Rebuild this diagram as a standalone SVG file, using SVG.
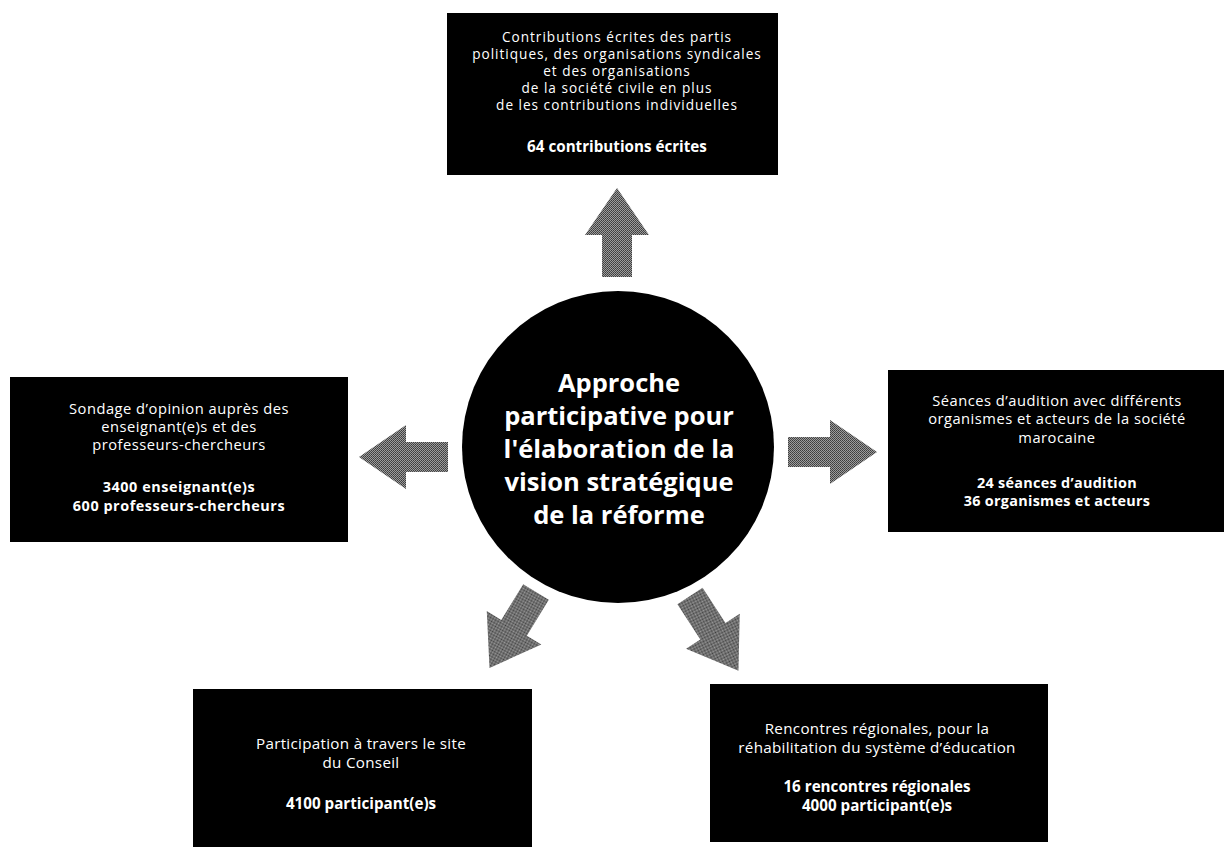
<svg xmlns="http://www.w3.org/2000/svg" width="1226" height="847" viewBox="0 0 1226 847">
  <defs>
    <pattern id="dither" width="2" height="2" patternUnits="userSpaceOnUse">
      <rect width="2" height="2" fill="#9c9c9c"/>
      <rect width="1" height="1" fill="#3c3c3c"/>
      <rect x="1" y="1" width="1" height="1" fill="#4a4a4a"/>
    </pattern>
    <path id="arrow" d="M0,-15 L42,-15 L42,-32 L89,0 L42,32 L42,15 L0,15 Z"/>
  </defs>
  <style>
    .box { fill: #000; }
    .t { font-family: "Open Sans", "Liberation Sans", sans-serif; fill: #fff; text-anchor: middle; }
    .top { font-size: 13.6px; letter-spacing: 1px; }
    .side { font-size: 14.7px; letter-spacing: 0.5px; }
    .low { font-size: 15.2px; letter-spacing: 0.3px; }
    .b { font-weight: bold; font-size: 15.2px; }
    .bl { font-size: 14.4px; letter-spacing: 0.55px; }
    .br { font-size: 14.4px; letter-spacing: 0.3px; }
    .c { font-family: "Open Sans", "Liberation Sans", sans-serif; font-size: 25.5px; font-weight: bold; fill: #fff; text-anchor: middle; }
    .arr { fill: url(#dither); }
  </style>
  <rect width="1226" height="847" fill="#fff"/>

  <g id="connectors">
    <use href="#arrow" class="arr" transform="translate(617,277) rotate(-90)"/>
    <use href="#arrow" class="arr" transform="translate(788,452)"/>
    <use href="#arrow" class="arr" transform="translate(448,457) rotate(180)"/>
    <use href="#arrow" class="arr" transform="translate(536,592) rotate(121.5)"/>
    <use href="#arrow" class="arr" transform="translate(690,596) rotate(57)"/>
  </g>

  <g id="center">
    <circle cx="618" cy="447" r="156" fill="#000"/>
    <text class="c" x="619" y="392">Approche</text>
    <text class="c" x="619" y="425">participative pour</text>
    <text class="c" x="619" y="458">l'élaboration de la</text>
    <text class="c" x="619" y="491">vision stratégique</text>
    <text class="c" x="619" y="524">de la réforme</text>
  </g>

  <g id="top">
    <rect class="box" x="447" y="13" width="331" height="162"/>
    <text class="t top" x="617" y="41.7">Contributions écrites des partis</text>
    <text class="t top" x="617" y="58.7">politiques, des organisations syndicales</text>
    <text class="t top" x="617" y="75.7">et des organisations</text>
    <text class="t top" x="617" y="92.7">de la société civile en plus</text>
    <text class="t top" x="617" y="109.7">de les contributions individuelles</text>
    <text class="t b" x="617" y="152">64 contributions écrites</text>
  </g>

  <g id="left">
    <rect class="box" x="10" y="377" width="338" height="165"/>
    <text class="t side" x="179" y="413.6">Sondage d’opinion auprès des</text>
    <text class="t side" x="179" y="432">enseignant(e)s et des</text>
    <text class="t side" x="179" y="450.4">professeurs-chercheurs</text>
    <text class="t b bl" x="179" y="492.2">3400  enseignant(e)s</text>
    <text class="t b bl" x="179" y="510.6">600  professeurs-chercheurs</text>
  </g>

  <g id="right">
    <rect class="box" x="888" y="370" width="336" height="162"/>
    <text class="t side" x="1057" y="405.7">Séances d’audition avec différents</text>
    <text class="t side" x="1057" y="424.1">organismes et acteurs de la société</text>
    <text class="t side" x="1057" y="442.5">marocaine</text>
    <text class="t b br" x="1057" y="488.2">24 séances d’audition</text>
    <text class="t b br" x="1057" y="506.2">36 organismes et acteurs</text>
  </g>

  <g id="bottom-left">
    <rect class="box" x="193" y="689" width="339" height="158"/>
    <text class="t low" x="361" y="749">Participation à travers le site</text>
    <text class="t low" x="361" y="768">du Conseil</text>
    <text class="t b" x="361" y="809">4100 participant(e)s</text>
  </g>

  <g id="bottom-right">
    <rect class="box" x="710" y="684" width="338" height="158"/>
    <text class="t low" x="877" y="734">Rencontres régionales, pour la</text>
    <text class="t low" x="877" y="753">réhabilitation du système d’éducation</text>
    <text class="t b" x="877" y="792">16 rencontres régionales</text>
    <text class="t b" x="877" y="811">4000 participant(e)s</text>
  </g>
</svg>
